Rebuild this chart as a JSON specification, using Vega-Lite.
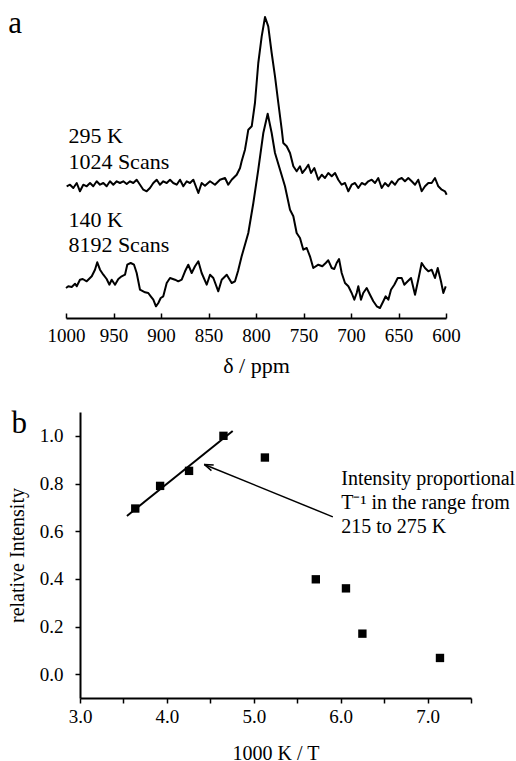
{
  "$schema": "https://vega.github.io/schema/vega-lite/v6.json",
  "background": "white",
  "padding": {"left": 7, "top": 7, "right": 0, "bottom": 0},
  "spacing": 31,
  "config": {
    "view": {"stroke": null},
    "font": "Liberation Serif",
    "axis": {"grid": false, "domainColor": "black", "tickColor": "black", "labelColor": "black", "titleColor": "black", "labelFont": "Liberation Serif", "titleFont": "Liberation Serif", "titleFontWeight": "normal"}
  },
  "datasets": {
    "spectra": [
      {"ppm":999.3,"intensity":131.7,"spectrum":"295 K"},{"ppm":995.8,"intensity":133.3,"spectrum":"295 K"},{"ppm":992.3,"intensity":130,"spectrum":"295 K"},{"ppm":988.7,"intensity":135,"spectrum":"295 K"},{"ppm":985.3,"intensity":126.7,"spectrum":"295 K"},{"ppm":981.8,"intensity":133.3,"spectrum":"295 K"},{"ppm":978.2,"intensity":131.7,"spectrum":"295 K"},{"ppm":974.7,"intensity":135,"spectrum":"295 K"},{"ppm":971.3,"intensity":131.7,"spectrum":"295 K"},{"ppm":967.7,"intensity":136.7,"spectrum":"295 K"},{"ppm":964.2,"intensity":133.3,"spectrum":"295 K"},{"ppm":960.7,"intensity":135,"spectrum":"295 K"},{"ppm":957.2,"intensity":131.7,"spectrum":"295 K"},{"ppm":953.7,"intensity":136.7,"spectrum":"295 K"},{"ppm":950.2,"intensity":133.3,"spectrum":"295 K"},{"ppm":946.6,"intensity":136.7,"spectrum":"295 K"},{"ppm":943.2,"intensity":135,"spectrum":"295 K"},{"ppm":939.7,"intensity":136.7,"spectrum":"295 K"},{"ppm":936.1,"intensity":134,"spectrum":"295 K"},{"ppm":932.6,"intensity":136.7,"spectrum":"295 K"},{"ppm":929.2,"intensity":135,"spectrum":"295 K"},{"ppm":925.6,"intensity":138.3,"spectrum":"295 K"},{"ppm":922.1,"intensity":133.3,"spectrum":"295 K"},{"ppm":918.6,"intensity":128.3,"spectrum":"295 K"},{"ppm":915.1,"intensity":126.7,"spectrum":"295 K"},{"ppm":911.6,"intensity":130,"spectrum":"295 K"},{"ppm":908.1,"intensity":135,"spectrum":"295 K"},{"ppm":904.5,"intensity":138.3,"spectrum":"295 K"},{"ppm":901.1,"intensity":133.3,"spectrum":"295 K"},{"ppm":897.6,"intensity":136.7,"spectrum":"295 K"},{"ppm":894,"intensity":135,"spectrum":"295 K"},{"ppm":890.5,"intensity":138.3,"spectrum":"295 K"},{"ppm":887.1,"intensity":135,"spectrum":"295 K"},{"ppm":883.5,"intensity":133.3,"spectrum":"295 K"},{"ppm":880,"intensity":138.3,"spectrum":"295 K"},{"ppm":876.5,"intensity":131.7,"spectrum":"295 K"},{"ppm":872.9,"intensity":136.7,"spectrum":"295 K"},{"ppm":869.5,"intensity":135,"spectrum":"295 K"},{"ppm":866,"intensity":138.3,"spectrum":"295 K"},{"ppm":860.7,"intensity":125,"spectrum":"295 K"},{"ppm":857.2,"intensity":135,"spectrum":"295 K"},{"ppm":853.7,"intensity":132.3,"spectrum":"295 K"},{"ppm":848.4,"intensity":136.7,"spectrum":"295 K"},{"ppm":843.2,"intensity":133.3,"spectrum":"295 K"},{"ppm":837.9,"intensity":138.3,"spectrum":"295 K"},{"ppm":832.6,"intensity":140,"spectrum":"295 K"},{"ppm":829.2,"intensity":133.3,"spectrum":"295 K"},{"ppm":825.6,"intensity":138.3,"spectrum":"295 K"},{"ppm":820.3,"intensity":143.3,"spectrum":"295 K"},{"ppm":816.8,"intensity":150,"spectrum":"295 K"},{"ppm":815.1,"intensity":156.7,"spectrum":"295 K"},{"ppm":811.6,"intensity":168.3,"spectrum":"295 K"},{"ppm":809.8,"intensity":178.3,"spectrum":"295 K"},{"ppm":808.1,"intensity":188.3,"spectrum":"295 K"},{"ppm":804.5,"intensity":191.7,"spectrum":"295 K"},{"ppm":801.1,"intensity":215,"spectrum":"295 K"},{"ppm":797.6,"intensity":255,"spectrum":"295 K"},{"ppm":794,"intensity":281.7,"spectrum":"295 K"},{"ppm":790.5,"intensity":301,"spectrum":"295 K"},{"ppm":787.1,"intensity":291.7,"spectrum":"295 K"},{"ppm":783.5,"intensity":265,"spectrum":"295 K"},{"ppm":780,"intensity":241.7,"spectrum":"295 K"},{"ppm":776.5,"intensity":215,"spectrum":"295 K"},{"ppm":772.9,"intensity":188.3,"spectrum":"295 K"},{"ppm":771.3,"intensity":175,"spectrum":"295 K"},{"ppm":767.7,"intensity":171.7,"spectrum":"295 K"},{"ppm":764.2,"intensity":165,"spectrum":"295 K"},{"ppm":760.7,"intensity":151.7,"spectrum":"295 K"},{"ppm":757.2,"intensity":146.7,"spectrum":"295 K"},{"ppm":753.7,"intensity":151.7,"spectrum":"295 K"},{"ppm":751.3,"intensity":145,"spectrum":"295 K"},{"ppm":748.4,"intensity":148.3,"spectrum":"295 K"},{"ppm":744.9,"intensity":153.3,"spectrum":"295 K"},{"ppm":742.1,"intensity":145,"spectrum":"295 K"},{"ppm":738.6,"intensity":150,"spectrum":"295 K"},{"ppm":734.4,"intensity":138.3,"spectrum":"295 K"},{"ppm":730.8,"intensity":143.3,"spectrum":"295 K"},{"ppm":727.4,"intensity":140,"spectrum":"295 K"},{"ppm":723.9,"intensity":145,"spectrum":"295 K"},{"ppm":720.3,"intensity":141.7,"spectrum":"295 K"},{"ppm":716.8,"intensity":145,"spectrum":"295 K"},{"ppm":713.4,"intensity":138.3,"spectrum":"295 K"},{"ppm":709.8,"intensity":133.3,"spectrum":"295 K"},{"ppm":706.3,"intensity":135,"spectrum":"295 K"},{"ppm":702.8,"intensity":126.7,"spectrum":"295 K"},{"ppm":699.3,"intensity":133.3,"spectrum":"295 K"},{"ppm":695.8,"intensity":135,"spectrum":"295 K"},{"ppm":692.3,"intensity":130,"spectrum":"295 K"},{"ppm":688.7,"intensity":135,"spectrum":"295 K"},{"ppm":685.3,"intensity":133.3,"spectrum":"295 K"},{"ppm":681.8,"intensity":136.7,"spectrum":"295 K"},{"ppm":678.2,"intensity":138.3,"spectrum":"295 K"},{"ppm":674.7,"intensity":135,"spectrum":"295 K"},{"ppm":671.3,"intensity":140,"spectrum":"295 K"},{"ppm":667.7,"intensity":130,"spectrum":"295 K"},{"ppm":664.2,"intensity":135,"spectrum":"295 K"},{"ppm":660.7,"intensity":131.7,"spectrum":"295 K"},{"ppm":657.2,"intensity":136.7,"spectrum":"295 K"},{"ppm":653.7,"intensity":133.3,"spectrum":"295 K"},{"ppm":650.2,"intensity":138.3,"spectrum":"295 K"},{"ppm":646.6,"intensity":140,"spectrum":"295 K"},{"ppm":643.2,"intensity":136.7,"spectrum":"295 K"},{"ppm":639.7,"intensity":140,"spectrum":"295 K"},{"ppm":636.1,"intensity":136.7,"spectrum":"295 K"},{"ppm":632.6,"intensity":133.3,"spectrum":"295 K"},{"ppm":629.2,"intensity":138.3,"spectrum":"295 K"},{"ppm":625.6,"intensity":126.7,"spectrum":"295 K"},{"ppm":622.1,"intensity":131.7,"spectrum":"295 K"},{"ppm":618.6,"intensity":135,"spectrum":"295 K"},{"ppm":615.1,"intensity":135,"spectrum":"295 K"},{"ppm":611.6,"intensity":140,"spectrum":"295 K"},{"ppm":608.1,"intensity":131.7,"spectrum":"295 K"},{"ppm":604.5,"intensity":128.3,"spectrum":"295 K"},{"ppm":601.1,"intensity":126.7,"spectrum":"295 K"},{"ppm":599.3,"intensity":123.3,"spectrum":"295 K"},
      {"ppm":1000,"intensity":30,"spectrum":"140 K"},{"ppm":997.6,"intensity":31.7,"spectrum":"140 K"},{"ppm":994,"intensity":31,"spectrum":"140 K"},{"ppm":990.5,"intensity":34.3,"spectrum":"140 K"},{"ppm":988.7,"intensity":31.7,"spectrum":"140 K"},{"ppm":985.3,"intensity":38.3,"spectrum":"140 K"},{"ppm":982.4,"intensity":39,"spectrum":"140 K"},{"ppm":978.2,"intensity":36.7,"spectrum":"140 K"},{"ppm":972.9,"intensity":41.7,"spectrum":"140 K"},{"ppm":969.5,"intensity":48.3,"spectrum":"140 K"},{"ppm":967.1,"intensity":55.7,"spectrum":"140 K"},{"ppm":964.2,"intensity":48.3,"spectrum":"140 K"},{"ppm":960.7,"intensity":43.3,"spectrum":"140 K"},{"ppm":957.2,"intensity":39,"spectrum":"140 K"},{"ppm":954.4,"intensity":33.3,"spectrum":"140 K"},{"ppm":951.9,"intensity":38.3,"spectrum":"140 K"},{"ppm":948.4,"intensity":33.3,"spectrum":"140 K"},{"ppm":944.9,"intensity":39,"spectrum":"140 K"},{"ppm":941.4,"intensity":41.7,"spectrum":"140 K"},{"ppm":937.9,"intensity":43.3,"spectrum":"140 K"},{"ppm":935.5,"intensity":53.3,"spectrum":"140 K"},{"ppm":931.9,"intensity":55,"spectrum":"140 K"},{"ppm":928.4,"intensity":53.3,"spectrum":"140 K"},{"ppm":925.6,"intensity":45,"spectrum":"140 K"},{"ppm":922.1,"intensity":28.3,"spectrum":"140 K"},{"ppm":916.8,"intensity":25.7,"spectrum":"140 K"},{"ppm":913.4,"intensity":25,"spectrum":"140 K"},{"ppm":910.8,"intensity":21.7,"spectrum":"140 K"},{"ppm":908.1,"intensity":18.3,"spectrum":"140 K"},{"ppm":905.3,"intensity":11.7,"spectrum":"140 K"},{"ppm":902.8,"intensity":15,"spectrum":"140 K"},{"ppm":900.3,"intensity":20,"spectrum":"140 K"},{"ppm":897.6,"intensity":21.7,"spectrum":"140 K"},{"ppm":894,"intensity":35,"spectrum":"140 K"},{"ppm":890.5,"intensity":40,"spectrum":"140 K"},{"ppm":885.3,"intensity":38.3,"spectrum":"140 K"},{"ppm":881.8,"intensity":36.7,"spectrum":"140 K"},{"ppm":878.2,"intensity":38.3,"spectrum":"140 K"},{"ppm":874.7,"intensity":46.7,"spectrum":"140 K"},{"ppm":871.3,"intensity":53.3,"spectrum":"140 K"},{"ppm":867.7,"intensity":45,"spectrum":"140 K"},{"ppm":864.2,"intensity":51.7,"spectrum":"140 K"},{"ppm":860.7,"intensity":56.7,"spectrum":"140 K"},{"ppm":857.2,"intensity":45,"spectrum":"140 K"},{"ppm":851.9,"intensity":33.3,"spectrum":"140 K"},{"ppm":848.4,"intensity":43.3,"spectrum":"140 K"},{"ppm":844.9,"intensity":40,"spectrum":"140 K"},{"ppm":839.7,"intensity":26.7,"spectrum":"140 K"},{"ppm":836.1,"intensity":38.3,"spectrum":"140 K"},{"ppm":830.8,"intensity":43.3,"spectrum":"140 K"},{"ppm":825.6,"intensity":35,"spectrum":"140 K"},{"ppm":822.1,"intensity":36.7,"spectrum":"140 K"},{"ppm":818.9,"intensity":47,"spectrum":"140 K"},{"ppm":815.1,"intensity":61.7,"spectrum":"140 K"},{"ppm":808.1,"intensity":85,"spectrum":"140 K"},{"ppm":802.8,"intensity":115,"spectrum":"140 K"},{"ppm":797.6,"intensity":148.3,"spectrum":"140 K"},{"ppm":792.3,"intensity":185,"spectrum":"140 K"},{"ppm":787.7,"intensity":204.3,"spectrum":"140 K"},{"ppm":783.5,"intensity":185,"spectrum":"140 K"},{"ppm":780,"intensity":165,"spectrum":"140 K"},{"ppm":774.7,"intensity":148.3,"spectrum":"140 K"},{"ppm":769.5,"intensity":131.7,"spectrum":"140 K"},{"ppm":764.2,"intensity":108.3,"spectrum":"140 K"},{"ppm":760.7,"intensity":101.7,"spectrum":"140 K"},{"ppm":757.2,"intensity":85,"spectrum":"140 K"},{"ppm":753.7,"intensity":80,"spectrum":"140 K"},{"ppm":750.2,"intensity":68.3,"spectrum":"140 K"},{"ppm":746.6,"intensity":70,"spectrum":"140 K"},{"ppm":743.2,"intensity":61.7,"spectrum":"140 K"},{"ppm":739.7,"intensity":50,"spectrum":"140 K"},{"ppm":734.4,"intensity":53.3,"spectrum":"140 K"},{"ppm":730.2,"intensity":51.7,"spectrum":"140 K"},{"ppm":726.6,"intensity":55,"spectrum":"140 K"},{"ppm":723.9,"intensity":57.7,"spectrum":"140 K"},{"ppm":720.3,"intensity":50,"spectrum":"140 K"},{"ppm":717.6,"intensity":49,"spectrum":"140 K"},{"ppm":715.1,"intensity":55,"spectrum":"140 K"},{"ppm":712.6,"intensity":59,"spectrum":"140 K"},{"ppm":709.8,"intensity":45,"spectrum":"140 K"},{"ppm":706.3,"intensity":35,"spectrum":"140 K"},{"ppm":702.8,"intensity":31.7,"spectrum":"140 K"},{"ppm":699.3,"intensity":25,"spectrum":"140 K"},{"ppm":696.5,"intensity":18.3,"spectrum":"140 K"},{"ppm":694,"intensity":25,"spectrum":"140 K"},{"ppm":692.3,"intensity":31.7,"spectrum":"140 K"},{"ppm":689.5,"intensity":18.3,"spectrum":"140 K"},{"ppm":687.1,"intensity":25,"spectrum":"140 K"},{"ppm":683.5,"intensity":30,"spectrum":"140 K"},{"ppm":680,"intensity":23.3,"spectrum":"140 K"},{"ppm":676.5,"intensity":16.7,"spectrum":"140 K"},{"ppm":672.9,"intensity":11.7,"spectrum":"140 K"},{"ppm":669.5,"intensity":10,"spectrum":"140 K"},{"ppm":666,"intensity":16.7,"spectrum":"140 K"},{"ppm":663.5,"intensity":21.7,"spectrum":"140 K"},{"ppm":660.7,"intensity":18.3,"spectrum":"140 K"},{"ppm":657.9,"intensity":28.3,"spectrum":"140 K"},{"ppm":654.4,"intensity":33.3,"spectrum":"140 K"},{"ppm":650.8,"intensity":40,"spectrum":"140 K"},{"ppm":646.6,"intensity":40,"spectrum":"140 K"},{"ppm":643.9,"intensity":33.3,"spectrum":"140 K"},{"ppm":640.3,"intensity":36.7,"spectrum":"140 K"},{"ppm":636.8,"intensity":40,"spectrum":"140 K"},{"ppm":632.6,"intensity":23.3,"spectrum":"140 K"},{"ppm":629.2,"intensity":38.3,"spectrum":"140 K"},{"ppm":625.6,"intensity":55,"spectrum":"140 K"},{"ppm":622.1,"intensity":50,"spectrum":"140 K"},{"ppm":618.6,"intensity":46.7,"spectrum":"140 K"},{"ppm":615.1,"intensity":48.3,"spectrum":"140 K"},{"ppm":611.6,"intensity":40,"spectrum":"140 K"},{"ppm":608.7,"intensity":50,"spectrum":"140 K"},{"ppm":605.3,"intensity":36.7,"spectrum":"140 K"},{"ppm":602.8,"intensity":25,"spectrum":"140 K"},{"ppm":600.3,"intensity":31.7,"spectrum":"140 K"}
    ],
    "spectrumLabels": [
      {"ppm": 997.5, "intensity": 175, "label": "295 K"},
      {"ppm": 997.5, "intensity": 149, "label": "1024 Scans"},
      {"ppm": 997.5, "intensity": 91, "label": "140 K"},
      {"ppm": 997.5, "intensity": 65.7, "label": "8192 Scans"}
    ],
    "panelA": [{"ppm": 1060.7, "intensity": 285, "label": "a"}],
    "intensity": [
      {"inverseT": 3.636, "relativeIntensity": 0.695},
      {"inverseT": 3.922, "relativeIntensity": 0.79},
      {"inverseT": 4.255, "relativeIntensity": 0.853},
      {"inverseT": 4.651, "relativeIntensity": 1.0},
      {"inverseT": 5.128, "relativeIntensity": 0.909},
      {"inverseT": 5.714, "relativeIntensity": 0.398},
      {"inverseT": 6.061, "relativeIntensity": 0.36},
      {"inverseT": 6.25, "relativeIntensity": 0.17},
      {"inverseT": 7.143, "relativeIntensity": 0.068}
    ],
    "fit": [
      {"inverseT": 3.54, "relativeIntensity": 0.664},
      {"inverseT": 4.757, "relativeIntensity": 1.02}
    ],
    "arrow": [{"xFrom": 5.91, "yFrom": 0.66, "xTo": 4.43, "yTo": 0.88}],
    "notes": [
      {"inverseT": 6.007, "relativeIntensity": 0.794, "label": "Intensity proportional"},
      {"inverseT": 6.007, "relativeIntensity": 0.694, "label": "T⁻¹ in the range from"},
      {"inverseT": 6.007, "relativeIntensity": 0.593, "label": "215 to 275 K"}
    ],
    "panelB": [{"inverseT": 2.212, "relativeIntensity": 1.013, "label": "b"}]
  },
  "vconcat": [
    {
      "width": 366,
      "height": 305,
      "layer": [
        {
          "data": {"name": "spectra"},
          "mark": {"type": "line", "color": "black", "strokeWidth": 2, "strokeJoin": "round"},
          "encoding": {
            "x": {"field": "ppm", "type": "quantitative",
              "scale": {"domain": [1000, 600], "range": [-14, 366], "nice": false, "zero": false},
              "axis": {"values": [1000,975,950,925,900,875,850,825,800,775,750,725,700,675,650,625,600], "format": "d", "labelExpr": "datum.value % 50 == 0 ? datum.label : ''", "tickSize": -5, "tickWidth": 1.5, "domainWidth": 2, "labelFont": "Liberation Serif", "labelFontSize": 19, "labelPadding": 13, "labelFlush": false, "labelOverlap": false, "title": "δ / ppm", "titleFont": "Liberation Serif", "titleFontWeight": "normal", "titleFontSize": 22, "titlePadding": 10}},
            "y": {"field": "intensity", "type": "quantitative", "scale": {"domain": [0, 305], "nice": false, "zero": false}, "axis": null},
            "detail": {"field": "spectrum", "type": "nominal"}
          }
        },
        {
          "data": {"name": "spectrumLabels"},
          "mark": {"type": "text", "align": "left", "baseline": "alphabetic", "fontSize": 22, "color": "black", "font": "Liberation Serif"},
          "encoding": {
            "x": {"field": "ppm", "type": "quantitative"},
            "y": {"field": "intensity", "type": "quantitative"},
            "text": {"field": "label", "type": "nominal"}
          }
        },
        {
          "data": {"name": "panelA"},
          "mark": {"type": "text", "align": "left", "baseline": "alphabetic", "fontSize": 31, "color": "black", "font": "Liberation Serif"},
          "encoding": {
            "x": {"field": "ppm", "type": "quantitative"},
            "y": {"field": "intensity", "type": "quantitative"},
            "text": {"field": "label", "type": "nominal"}
          }
        }
      ]
    },
    {
      "width": 391,
      "height": 286,
      "layer": [
        {
          "data": {"name": "intensity"},
          "mark": {"type": "point", "shape": "square", "filled": true, "color": "black", "size": 70, "opacity": 1},
          "encoding": {
            "x": {"field": "inverseT", "type": "quantitative",
              "scale": {"domain": [3, 7.5], "nice": false, "zero": false},
              "axis": {"values": [3,3.5,4,4.5,5,5.5,6,6.5,7,7.5], "labelExpr": "datum.value % 1 == 0 ? format(datum.value, '.1f') : ''", "tickSize": 5, "tickWidth": 1.5, "domainWidth": 2, "labelFont": "Liberation Serif", "labelFontSize": 19, "labelPadding": 4.5, "labelFlush": false, "labelOverlap": false, "title": "1000 K / T", "titleFont": "Liberation Serif", "titleFontWeight": "normal", "titleFontSize": 20, "titlePadding": 17}},
            "y": {"field": "relativeIntensity", "type": "quantitative",
              "scale": {"domain": [-0.1, 1.1], "nice": false, "zero": false},
              "axis": {"values": [0,0.1,0.2,0.3,0.4,0.5,0.6,0.7,0.8,0.9,1,1.1], "format": ".1f", "labelOverlap": "parity", "labelSeparation": 12, "tickSize": 5, "tickWidth": 1.5, "domainWidth": 2, "labelFont": "Liberation Serif", "labelFontSize": 19, "labelPadding": 12, "labelFlush": false, "title": "relative Intensity", "titleFont": "Liberation Serif", "titleFontWeight": "normal", "titleFontSize": 20, "titlePadding": 12}}
          }
        },
        {
          "data": {"name": "fit"},
          "mark": {"type": "line", "color": "black", "strokeWidth": 2},
          "encoding": {
            "x": {"field": "inverseT", "type": "quantitative"},
            "y": {"field": "relativeIntensity", "type": "quantitative"}
          }
        },
        {
          "data": {"name": "arrow"},
          "mark": {"type": "rule", "color": "black", "strokeWidth": 1.5},
          "encoding": {
            "x": {"field": "xFrom", "type": "quantitative"},
            "y": {"field": "yFrom", "type": "quantitative"},
            "x2": {"field": "xTo"},
            "y2": {"field": "yTo"}
          }
        },
        {
          "data": {"name": "arrow"},
          "mark": {"type": "point", "shape": "M0,0L-1,-0.33M0,0L-1,0.33", "filled": false, "stroke": "black", "strokeWidth": 1.5, "size": 324, "angle": 202.2, "opacity": 1},
          "encoding": {
            "x": {"field": "xTo", "type": "quantitative"},
            "y": {"field": "yTo", "type": "quantitative"}
          }
        },
        {
          "data": {"name": "notes"},
          "mark": {"type": "text", "align": "left", "baseline": "alphabetic", "fontSize": 20, "color": "black", "font": "Liberation Serif"},
          "encoding": {
            "x": {"field": "inverseT", "type": "quantitative"},
            "y": {"field": "relativeIntensity", "type": "quantitative"},
            "text": {"field": "label", "type": "nominal"}
          }
        },
        {
          "data": {"name": "panelB"},
          "mark": {"type": "text", "align": "left", "baseline": "alphabetic", "fontSize": 31, "color": "black", "font": "Liberation Serif"},
          "encoding": {
            "x": {"field": "inverseT", "type": "quantitative"},
            "y": {"field": "relativeIntensity", "type": "quantitative"},
            "text": {"field": "label", "type": "nominal"}
          }
        }
      ]
    }
  ]
}
